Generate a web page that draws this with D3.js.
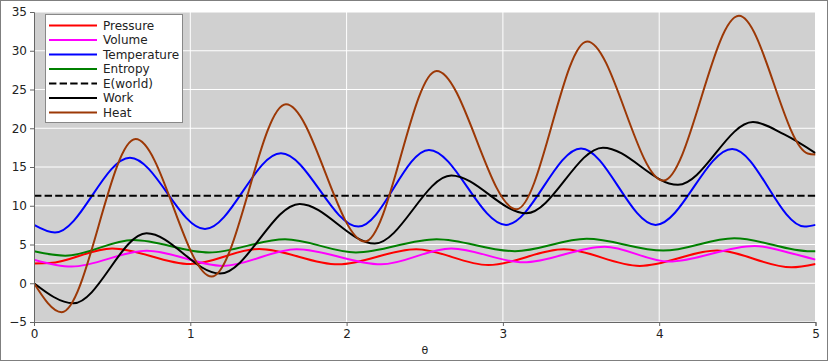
<!DOCTYPE html>
<html><head><meta charset="utf-8">
<script src="https://cdn.jsdelivr.net/npm/d3@7"></script>
<style>body{margin:0;background:#fff} text{font-family:"DejaVu Sans",sans-serif}</style>
</head><body><svg id="c" width="828" height="361"></svg>
<script>
const xTicks=[0,1,2,3,4,5];
const yTicks=[-5,0,5,10,15,20,25,30,35];
const xLabel="θ";

const pressureT=[0,0.1,0.50,1.00,1.44,1.947,2.445,2.907,3.39,3.876,4.37,4.846,5.0];
const pressureV=[2.55,2.6,4.5,2.48,4.42,2.44,4.4,2.35,4.38,2.24,4.21,2.06,2.49];
const volumeT=[0,0.24,0.72,1.21,1.68,2.22,2.67,3.13,3.65,4.06,4.61,4.85,5.0];
const volumeV=[3.05,2.15,4.2,2.24,4.4,2.44,4.5,2.7,4.72,2.8,4.82,3.85,3.05];
const temperatureT=[0,0.134,0.614,1.094,1.58,2.075,2.527,3.02,3.50,3.977,4.467,4.93,5.0];
const temperatureV=[7.53,6.54,16.2,7.0,16.77,7.31,17.2,7.53,17.4,7.53,17.33,7.31,7.53];
const entropyT=[0,0.2,0.635,1.12,1.606,2.06,2.576,3.077,3.536,4.026,4.48,4.97,5.0];
const entropyV=[4.12,3.55,5.58,3.97,5.67,3.98,5.69,4.14,5.73,4.21,5.81,4.12,4.13];
const eWorld=11.3;
const workT=[0,0.252,0.72,1.19,1.70,2.18,2.67,3.15,3.64,4.12,4.60,4.8,5.0];
const workV=[0,-2.58,6.45,1.25,10.24,5.13,13.9,9.03,17.5,12.7,20.8,19.2,16.8];
const heatT=[0,0.177,0.65,1.137,1.612,2.117,2.576,3.087,3.539,4.026,4.51,4.95,5.0];
const heatV=[0,-3.74,18.6,0.86,23.1,5.38,27.4,9.55,31.2,13.25,34.5,16.75,16.6];

const series=[
 {name:"Pressure",color:"#ff0000",t:pressureT,v:pressureV},
 {name:"Volume",color:"#ff00ff",t:volumeT,v:volumeV},
 {name:"Temperature",color:"#0000ff",t:temperatureT,v:temperatureV},
 {name:"Entropy",color:"#008000",t:entropyT,v:entropyV},
 {name:"E(world)",color:"#000000",t:[0,5],v:[eWorld,eWorld],dash:"7.4,3.2"},
 {name:"Work",color:"#000000",t:workT,v:workV},
 {name:"Heat",color:"#9c3806",t:heatT,v:heatV}
];

const svg=d3.select("#c");
const m={l:34,r:815.5,t:12,b:322};
const x=d3.scaleLinear().domain([0,5]).range([m.l,m.r]);
const y=d3.scaleLinear().domain([-5,35]).range([m.b,m.t]);

svg.append("rect").attr("x",0.5).attr("y",0.5).attr("width",827).attr("height",360)
  .attr("fill","#fff").attr("stroke","#7f7f7f");
svg.append("rect").attr("x",m.l).attr("y",m.t).attr("width",m.r-m.l).attr("height",m.b-m.t).attr("fill","#d0d0d0");

// grid
svg.append("g").selectAll("line").data(xTicks).join("line")
  .attr("x1",d=>x(d)).attr("x2",d=>x(d)).attr("y1",m.t).attr("y2",m.b)
  .attr("stroke","#fff").attr("stroke-width",1);
svg.append("g").selectAll("line").data(yTicks).join("line")
  .attr("x1",m.l).attr("x2",m.r).attr("y1",d=>y(d)).attr("y2",d=>y(d))
  .attr("stroke","#fff").attr("stroke-width",1);

svg.append("clipPath").attr("id","clip").append("rect")
  .attr("x",m.l).attr("y",m.t).attr("width",m.r-m.l).attr("height",m.b-m.t);

const line=d3.line().curve(d3.curveMonotoneX).x(d=>x(d[0])).y(d=>y(d[1]));
const g=svg.append("g").attr("clip-path","url(#clip)");
series.forEach(s=>{
  g.append("path").datum(s.t.map((t,i)=>[t,s.v[i]]))
   .attr("d",line).attr("fill","none").attr("stroke",s.color).attr("stroke-width",2)
   .attr("stroke-dasharray",s.dash||null);
});

// axes
const fmt=d=>d<0?"\u2212"+Math.abs(d):String(d);
const xa=svg.append("g").attr("transform",`translate(0,${m.b})`)
  .call(d3.axisBottom(x).tickValues(xTicks).tickFormat(fmt).tickSize(4).tickPadding(3));
const ya=svg.append("g").attr("transform",`translate(${m.l},0)`)
  .call(d3.axisLeft(y).tickValues(yTicks).tickFormat(fmt).tickSize(4).tickPadding(3));
[xa,ya].forEach(a=>{
  a.select(".domain").attr("stroke","#666");
  a.selectAll(".tick line").attr("stroke","#666");
  a.selectAll(".tick text").attr("fill","#222").style("font-size","12px").style("font-family","DejaVu Sans");
});
svg.append("text").attr("x",x(2.5)).attr("y",354).attr("text-anchor","middle")
  .style("font-size","11px").attr("fill","#222").text(xLabel);

// legend
const lg=svg.append("g");
lg.append("rect").attr("x",45.5).attr("y",14.5).attr("width",137).attr("height",108)
  .attr("fill","#fff").attr("stroke","#888");
series.forEach((s,i)=>{
  const yy=25.5+i*14.5;
  lg.append("line").attr("x1",49).attr("x2",97).attr("y1",yy).attr("y2",yy)
    .attr("stroke",s.color).attr("stroke-width",2).attr("stroke-dasharray",s.dash||null);
  lg.append("text").attr("x",103).attr("y",yy).attr("dy","0.36em")
    .style("font-size","12px").attr("fill","#222").text(s.name);
});
</script></body></html>
